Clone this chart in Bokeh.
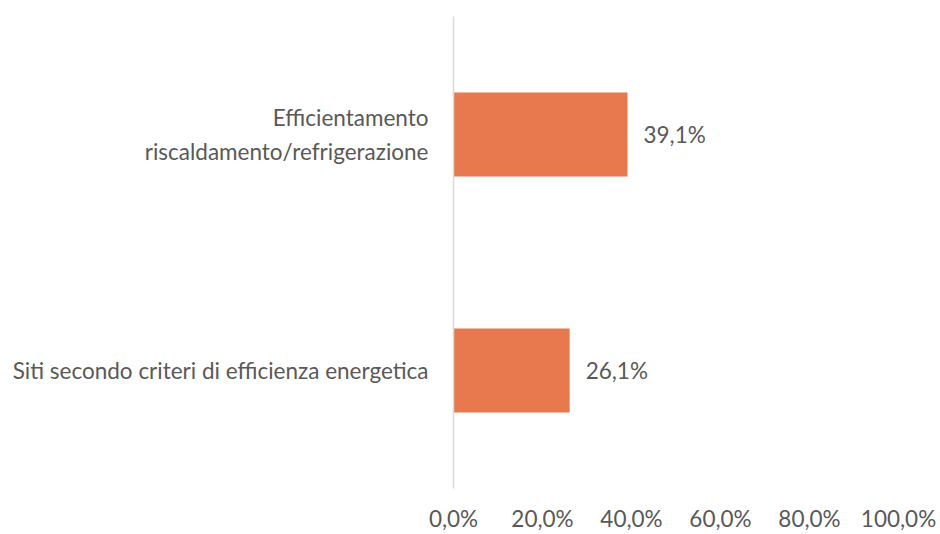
from bokeh.plotting import figure
from bokeh.models import FactorRange, Range1d, FixedTicker, ColumnDataSource
from bokeh.core.properties import value
from bokeh.embed import file_html
from bokeh.resources import INLINE

# data (top to bottom as shown)
categories = ["Efficientamento\nriscaldamento/refrigerazione",
              "Siti secondo criteri di efficienza energetica"]
values = [39.1, 26.1]
value_labels = ["39,1%", "26,1%"]
x_ticks = [0, 20, 40, 60, 80, 100]
x_tick_labels = ["0,0%", "20,0%", "40,0%", "60,0%", "80,0%", "100,0%"]

FONT = "Lato"
FS = "22.5px"
TXT = "#595959"
BAR = "#E8794F"

src = ColumnDataSource(dict(cat=categories, val=values, lab=value_labels))

p = figure(width=940, height=534, output_backend="svg", toolbar_location=None,
           y_range=FactorRange(*list(reversed(categories)), range_padding=0),
           x_range=Range1d(0, 100),
           min_border_left=453, min_border_right=42, min_border_top=16, min_border_bottom=44)
p.outline_line_color = None
p.background_fill_color = "white"
p.border_fill_color = "white"
p.xgrid.visible = False
p.ygrid.visible = False

p.hbar(y="cat", right="val", left=0, height=0.355, source=src, fill_color=BAR, line_color=None)
p.text(x="val", y="cat", text="lab", source=src, x_offset=16, text_align="left",
       text_baseline="middle", text_font=value(FONT), text_font_size=FS, text_color=TXT)

xa = p.xaxis[0]
xa.ticker = FixedTicker(ticks=x_ticks)
xa.major_label_overrides = {t: l for t, l in zip(x_ticks, x_tick_labels)}
xa.axis_line_color = None
xa.major_tick_line_color = None
xa.minor_tick_line_color = None
xa.major_label_text_font = FONT
xa.major_label_text_font_size = FS
xa.major_label_text_color = TXT
xa.major_label_standoff = 10

ya = p.yaxis[0]
ya.axis_line_color = "#D9D9D9"
ya.axis_line_width = 1.5
ya.major_tick_line_color = None
ya.minor_tick_line_color = None
ya.major_label_text_font = FONT
ya.major_label_text_font_size = FS
ya.major_label_text_color = TXT
ya.major_label_text_line_height = 1.25
ya.major_label_standoff = 19

open("out.html", "w").write(file_html(p, INLINE))
